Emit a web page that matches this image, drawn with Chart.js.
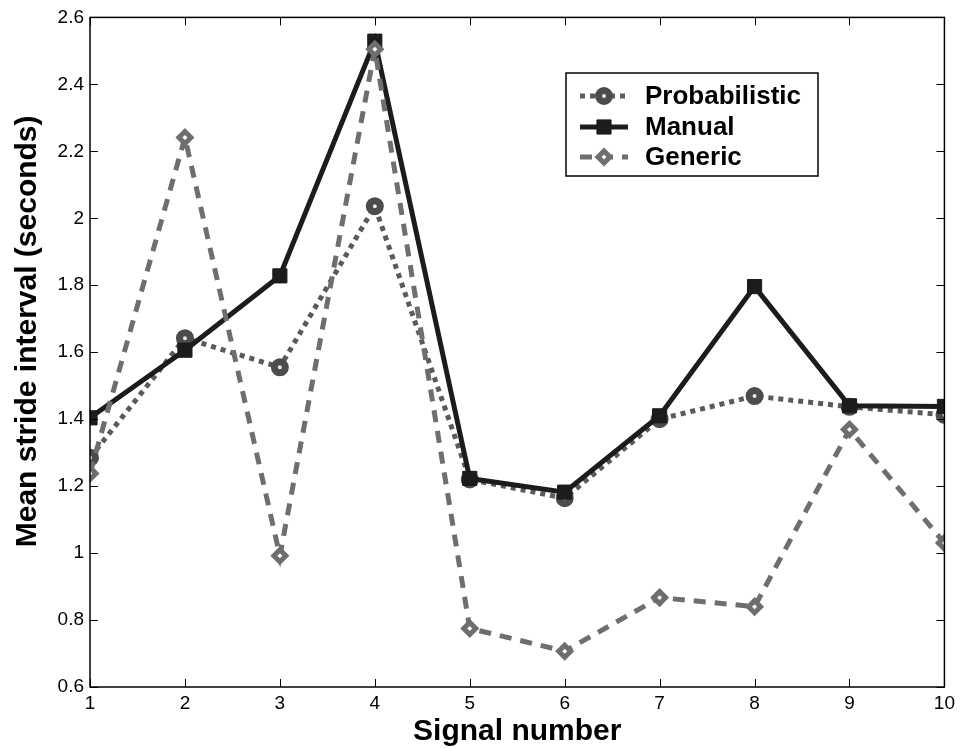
<!DOCTYPE html>
<html><head><meta charset="utf-8">
<script src="https://cdn.jsdelivr.net/npm/chart.js@4/dist/chart.umd.min.js"></script>
<style>html,body{margin:0;padding:0;background:#fff}#wrap{width:960px;height:748px}</style>
</head><body><div id="wrap"><canvas id="c" width="960" height="748"></canvas></div>
<script>
const signals = [1,2,3,4,5,6,7,8,9,10];
const probabilistic = [1.285,1.642,1.555,2.036,1.22,1.164,1.40,1.469,1.437,1.413];
const manual = [1.404,1.606,1.828,2.529,1.223,1.182,1.41,1.796,1.44,1.438];
const generic = [1.238,2.241,0.992,2.505,0.775,0.707,0.867,0.840,1.369,1.030];
const yTicks = [0.6,0.8,1,1.2,1.4,1.6,1.8,2,2.2,2.4,2.6];
const seriesNames = ['Probabilistic','Manual','Generic'];

const FONT = 'Liberation Sans, Arial, Helvetica, sans-serif';

const boxPlugin = {
  id:'box',
  afterDraw(chart){
    const {ctx, chartArea:a, scales:{x,y}} = chart;
    ctx.save();
    ctx.strokeStyle='#000'; ctx.lineWidth=1.5;
    ctx.strokeRect(a.left, a.top, a.right-a.left, a.bottom-a.top);
    ctx.lineWidth=1;
    const L=8;
    signals.forEach(v=>{
      const px=Math.round(x.getPixelForValue(v))+0.5;
      ctx.beginPath();ctx.moveTo(px,a.bottom);ctx.lineTo(px,a.bottom-L);
      ctx.moveTo(px,a.top);ctx.lineTo(px,a.top+L);ctx.stroke();
    });
    yTicks.forEach(v=>{
      const py=Math.round(y.getPixelForValue(v))+0.5;
      ctx.beginPath();ctx.moveTo(a.left,py);ctx.lineTo(a.left+L,py);
      ctx.moveTo(a.right,py);ctx.lineTo(a.right-L,py);ctx.stroke();
    });
    // legend
    const bx=566, by=73, bw=252, bh=103;
    ctx.fillStyle='#fff'; ctx.fillRect(bx,by,bw,bh);
    ctx.strokeStyle='#000'; ctx.lineWidth=1.5; ctx.strokeRect(bx,by,bw,bh);
    const rows=[96,127,157];
    chart.data.datasets.forEach((ds,i)=>{
      const ry=rows[i];
      ctx.save();
      ctx.strokeStyle=ds.borderColor; ctx.lineWidth=ds.borderWidth;
      ctx.setLineDash(ds.borderDash||[]);
      ctx.beginPath();ctx.moveTo(580,ry);ctx.lineTo(628,ry);ctx.stroke();
      ctx.restore();
      ctx.save();
      ctx.fillStyle=ds.pointBackgroundColor; ctx.strokeStyle=ds.pointBorderColor;
      ctx.lineWidth=ds.pointBorderWidth;
      Chart.helpers.drawPoint(ctx,{pointStyle:ds.pointStyle,radius:ds.pointRadius,borderWidth:ds.pointBorderWidth},604,ry);
      ctx.restore();
      ctx.fillStyle='#000'; ctx.font='bold 26px '+FONT; ctx.textBaseline='middle'; ctx.textAlign='left';
      ctx.fillText(ds.label,645,ry+1);
    });
    ctx.restore();
  }
};

new Chart(document.getElementById('c'),{
  type:'line',
  data:{
    labels:signals,
    datasets:[
      {label:seriesNames[0],order:2,data:probabilistic.map((v,i)=>({x:signals[i],y:v})),borderColor:'#5a5a5a',borderWidth:5,borderDash:[5,5],
       pointStyle:'circle',pointRadius:5.5,pointBorderWidth:7,pointBackgroundColor:'#e8e8e8',pointBorderColor:'#4c4c4c',fill:false,tension:0},
      {label:seriesNames[1],order:1,data:manual.map((v,i)=>({x:signals[i],y:v})),borderColor:'#1c1c1c',borderWidth:5,borderDash:[],
       pointStyle:'rect',pointRadius:10,pointBorderWidth:1,pointBackgroundColor:'#1c1c1c',pointBorderColor:'#1c1c1c',fill:false,tension:0},
      {label:seriesNames[2],order:0,data:generic.map((v,i)=>({x:signals[i],y:v})),borderColor:'#6e6e6e',borderWidth:5,borderDash:[12,9],
       pointStyle:'rectRot',pointRadius:6,pointBorderWidth:5,pointBackgroundColor:'#fff',pointBorderColor:'#6e6e6e',fill:false,tension:0}
    ]
  },
  options:{
    responsive:false,animation:false,
    layout:{padding:{top:13,right:15,left:0,bottom:0}},
    plugins:{legend:{display:false},tooltip:{enabled:false}},
    scales:{
      x:{type:'linear',min:1,max:10,
        afterBuildTicks:s=>{s.ticks=signals.map(v=>({value:v}));},
        afterFit:s=>{s.height=61;},
        grid:{display:false,drawTicks:false},border:{display:false},
        ticks:{color:'#000',font:{family:FONT,size:19},padding:5,maxRotation:0,autoSkip:false},
        title:{display:true,text:'Signal number',color:'#000',font:{family:FONT,size:30,weight:'bold'},padding:{top:0,bottom:-2}}},
      y:{type:'linear',min:0.6,max:2.6,
        afterBuildTicks:s=>{s.ticks=yTicks.map(v=>({value:v}));},
        afterFit:s=>{s.width=90;},
        grid:{display:false,drawTicks:false},border:{display:false},
        ticks:{color:'#000',font:{family:FONT,size:19},padding:6,callback:v=>String(Math.round(v*10)/10)},
        title:{display:true,text:'     Mean stride interval (seconds)',color:'#000',font:{family:FONT,size:30,weight:'bold'},padding:{top:10,bottom:0}}}
    }
  },
  plugins:[boxPlugin]
});
</script></body></html>
